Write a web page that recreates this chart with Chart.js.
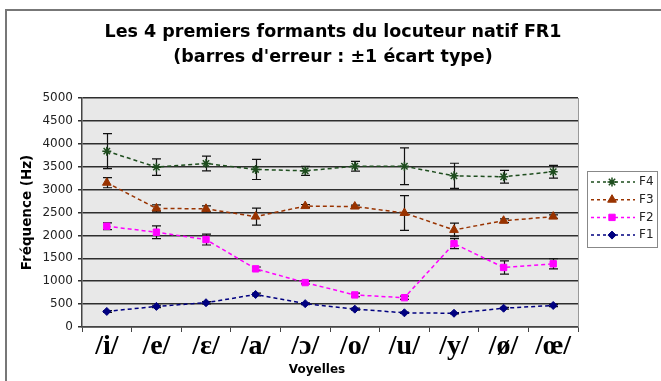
<!DOCTYPE html>
<html>
<head>
<meta charset="utf-8">
<script src="https://cdn.jsdelivr.net/npm/chart.js@4.4.1/dist/chart.umd.min.js"></script>
<style>
  html, body { margin: 0; padding: 0; background: #fff; }
  #wrap { width: 661px; height: 381px; position: relative; }
</style>
</head>
<body>
<div id="wrap"><canvas id="formants"></canvas></div>
<script>
// voyelles et moyennes des formants (Hz)
const vowels = ['/i/', '/e/', '/ɛ/', '/a/', '/ɔ/', '/o/', '/u/', '/y/', '/ø/', '/œ/'];
const f1 = [340, 450, 530, 710, 510, 390, 310, 300, 410, 470];
const f2 = [2200, 2070, 1910, 1270, 970, 700, 640, 1820, 1300, 1380];
const f3 = [3150, 2590, 2580, 2410, 2640, 2630, 2490, 2120, 2320, 2410];
const f4 = [3840, 3490, 3570, 3440, 3410, 3510, 3510, 3300, 3280, 3390];

// écarts types
const f1Sd = [20, 25, 25, 30, 20, 20, 15, 15, 20, 25];
const f2Sd = [75, 140, 120, 40, 30, 40, 35, 110, 145, 110];
const f3Sd = [110, 75, 65, 185, 35, 30, 380, 150, 40, 40];
const f4Sd = [380, 180, 160, 220, 100, 105, 400, 275, 140, 140];

const yMax = 5000;
const yStep = 500;

const SANS = '"DejaVu Sans", Verdana, sans-serif';

function series(label, data, sd, color, style, radius) {
  return {
    label, data, sd,
    borderColor: color,
    backgroundColor: color,
    borderWidth: 1.5,
    borderDash: [4, 3],
    pointStyle: style,
    pointRadius: radius,
    pointHoverRadius: radius,
    pointBorderColor: color,
    pointBackgroundColor: color,
    pointBorderWidth: style === 'star' ? 1.5 : 1,
    tension: 0
  };
}

// fond du cadre + bordure extérieure
const background = {
  id: 'background',
  beforeDraw(chart) {
    const { ctx, chartArea: a } = chart;
    ctx.save();
    ctx.fillStyle = '#e8e8e8';
    ctx.fillRect(a.left, a.top, a.right - a.left, a.bottom - a.top);
    ctx.strokeStyle = '#777';
    ctx.lineWidth = 2;
    ctx.beginPath();
    ctx.moveTo(6, chart.height);
    ctx.lineTo(6, 10);
    ctx.lineTo(chart.width, 10);
    ctx.stroke();
    ctx.restore();
  },
  afterDraw(chart) {
    const { ctx, chartArea: a } = chart;
    ctx.save();
    ctx.strokeStyle = '#999';
    ctx.lineWidth = 1;
    ctx.beginPath();
    ctx.moveTo(a.right + 0.5, a.top);
    ctx.lineTo(a.right + 0.5, a.bottom);
    ctx.stroke();
    // titre de l'axe des x
    ctx.fillStyle = '#000';
    ctx.font = 'bold 12px ' + SANS;
    ctx.textAlign = 'center';
    ctx.textBaseline = 'middle';
    ctx.fillText('Voyelles', 317, 370);
    ctx.restore();
  }
};

// barres d'erreur : ±1 écart type
const errorBars = {
  id: 'errorBars',
  beforeDatasetsDraw(chart) {
    const { ctx } = chart;
    const y = chart.scales.y;
    ctx.save();
    ctx.strokeStyle = '#111';
    ctx.lineWidth = 1.2;
    chart.data.datasets.forEach((ds, di) => {
      const meta = chart.getDatasetMeta(di);
      meta.data.forEach((pt, i) => {
        const top = y.getPixelForValue(ds.data[i] + ds.sd[i]);
        const bot = y.getPixelForValue(ds.data[i] - ds.sd[i]);
        const x = Math.round(pt.x) + 0.5;
        ctx.beginPath();
        ctx.moveTo(x, top);
        ctx.lineTo(x, bot);
        ctx.moveTo(x - 4.5, top);
        ctx.lineTo(x + 4.5, top);
        ctx.moveTo(x - 4.5, bot);
        ctx.lineTo(x + 4.5, bot);
        ctx.stroke();
      });
    });
    ctx.restore();
  }
};

// légende : trait pointillé avec marqueur
const sideLegend = {
  id: 'sideLegend',
  afterDraw(chart) {
    const { ctx } = chart;
    const box = { left: 587, top: 171, right: 657, bottom: 247 };
    ctx.save();
    ctx.fillStyle = '#fff';
    ctx.fillRect(box.left, box.top, box.right - box.left, box.bottom - box.top);
    ctx.strokeStyle = '#888';
    ctx.lineWidth = 1;
    ctx.strokeRect(box.left + 0.5, box.top + 0.5, box.right - box.left, box.bottom - box.top);
    const order = chart.data.datasets.slice().reverse();
    order.forEach((ds, k) => {
      const ly = 182 + k * 17.7;
      ctx.strokeStyle = ds.borderColor;
      ctx.lineWidth = 1.5;
      ctx.setLineDash([3, 3]);
      ctx.beginPath();
      ctx.moveTo(591, ly);
      ctx.lineTo(635, ly);
      ctx.stroke();
      ctx.setLineDash([]);
      ctx.fillStyle = ds.pointBackgroundColor;
      ctx.strokeStyle = ds.pointBorderColor;
      ctx.lineWidth = ds.pointBorderWidth;
      Chart.helpers.drawPoint(ctx, {
        pointStyle: ds.pointStyle,
        radius: ds.pointRadius,
        borderWidth: ds.pointBorderWidth,
        rotation: 0
      }, 612, ly);
      ctx.fillStyle = '#222';
      ctx.font = '12px ' + SANS;
      ctx.textAlign = 'left';
      ctx.textBaseline = 'middle';
      ctx.fillText(ds.label, 639, ly);
    });
    ctx.restore();
  }
};

new Chart(document.getElementById('formants'), {
  type: 'line',
  data: {
    labels: vowels,
    datasets: [
      series('F1', f1, f1Sd, '#000080', 'rectRot', 4),
      series('F2', f2, f2Sd, '#ff00ff', 'rect', 4.5),
      series('F3', f3, f3Sd, '#993300', 'triangle', 5),
      series('F4', f4, f4Sd, '#1e4d1e', 'star', 4.5)
    ]
  },
  options: {
    responsive: true,
    maintainAspectRatio: false,
    animation: false,
    layout: { padding: { left: 5, right: 0, top: 0, bottom: 0 } },
    plugins: {
      legend: { display: false },
      tooltip: { enabled: false },
      title: {
        display: true,
        text: ['Les 4 premiers formants du locuteur natif FR1', '(barres d\'erreur : ±1 écart type)'],
        color: '#000',
        font: { family: SANS, size: 17.5, weight: 'bold', lineHeight: '25px' },
        padding: { top: 20, bottom: 28 }
      }
    },
    scales: {
      x: {
        offset: true,
        grid: { offset: true, drawOnChartArea: false, drawTicks: true, tickLength: 5, color: '#444' },
        border: { color: '#444', width: 1.5 },
        ticks: {
          autoSkip: false, maxRotation: 0, padding: -2, color: '#000',
          font: { family: '"Liberation Serif", "Times New Roman", serif', size: 28, weight: 'bold' }
        },
        afterFit(s) { s.height = 54; }
      },
      y: {
        min: 0, max: yMax,
        grid: { color: '#2e2e2e', lineWidth: 1.5, tickLength: 4 },
        border: { color: '#444', width: 1.5 },
        ticks: {
          stepSize: yStep, padding: 5, color: '#222',
          font: { family: SANS, size: 12 },
          callback: v => String(v)
        },
        title: {
          display: true, text: 'Fréquence (Hz)', color: '#000',
          font: { family: SANS, size: 13.5, weight: 'bold' },
          padding: { top: 14, bottom: 0 }
        },
        afterFit(s) { s.width = 77; }
      },
      spacer: {
        position: 'right', display: true,
        grid: { display: false }, border: { display: false }, ticks: { display: false },
        afterFit(s) { s.width = 83; }
      }
    }
  },
  plugins: [background, errorBars, sideLegend]
});
</script>
</body>
</html>
